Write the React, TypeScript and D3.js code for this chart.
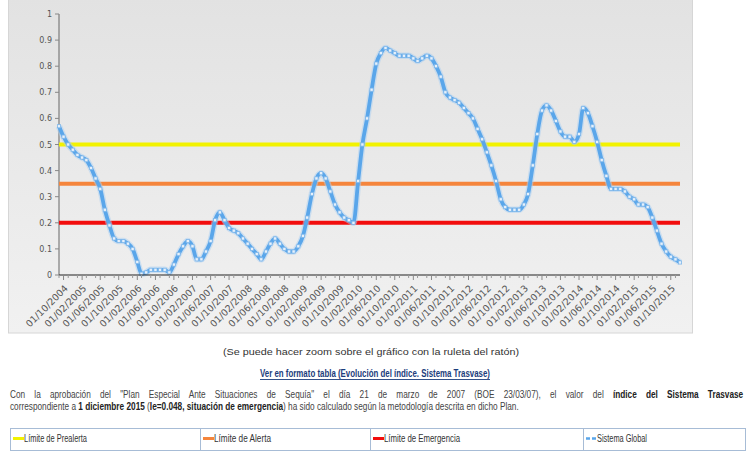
import React from "react";
import * as d3 from "d3";

const W = 749;
const H = 451;

// Monthly values of the index (Sistema Global), Sep 2004 .. Dec 2015
const globalValues = [
  0.57, 0.53, 0.5, 0.48, 0.46, 0.45, 0.44, 0.41, 0.37, 0.33,
  0.25, 0.19, 0.14, 0.13, 0.13, 0.12, 0.1, 0.05, 0.005, 0.01,
  0.02, 0.02, 0.02, 0.02, 0.01, 0.04, 0.08, 0.11, 0.13, 0.11,
  0.06, 0.06, 0.09, 0.13, 0.21, 0.24, 0.21, 0.18, 0.17, 0.16,
  0.14, 0.12, 0.1, 0.08, 0.06, 0.09, 0.12, 0.14, 0.12, 0.1,
  0.09, 0.09, 0.11, 0.15, 0.22, 0.31, 0.37, 0.39, 0.37, 0.32,
  0.27, 0.24, 0.22, 0.21, 0.2, 0.36, 0.5, 0.6, 0.71, 0.81,
  0.85, 0.87, 0.86, 0.85, 0.84, 0.84, 0.84, 0.83, 0.82, 0.83,
  0.84, 0.83, 0.8, 0.76, 0.7, 0.68, 0.67, 0.66, 0.64, 0.62,
  0.6, 0.56, 0.52, 0.47, 0.42, 0.36, 0.29, 0.26, 0.25, 0.25,
  0.25, 0.27, 0.31, 0.42, 0.54, 0.63, 0.65, 0.63, 0.59, 0.55,
  0.53, 0.53, 0.51, 0.54, 0.64, 0.62, 0.57, 0.51, 0.44, 0.38,
  0.33, 0.33, 0.33, 0.32, 0.3, 0.29, 0.27, 0.27, 0.26, 0.22,
  0.17, 0.12, 0.09, 0.07, 0.06, 0.048,
];
const startDate = new Date(2004, 8, 1);
const endDate = new Date(2015, 11, 1);
const firstTickDate = new Date(2004, 9, 1);
const tickCount = 34;
const yTicks = [0, 0.1, 0.2, 0.3, 0.4, 0.5, 0.6, 0.7, 0.8, 0.9, 1];

const thresholdNames = ["Límite de Prealerta", "Límite de Alerta", "Límite de Emergencia"];
const thresholdValues = [0.5, 0.35, 0.2];
const thresholdColors = ["#f2f200", "#f5853c", "#f20d0d"];
const seriesName = "Sistema Global";
const seriesColor = "#5aa6ea";

const noteText = "(Se puede hacer zoom sobre el gráfico con la ruleta del ratón)";
const linkText = "Ver en formato tabla (Evolución del índice. Sistema Trasvase)";
// paragraph segments per line: [text, bold]
const paragraphLine1: [string, boolean][] = [
  ["Con la aprobación del \"Plan Especial Ante Situaciones de Sequía\" el día 21 de marzo de 2007 (BOE 23/03/07), el valor del ", false],
  ["índice del Sistema Trasvase", true],
];
const paragraphLine2: [string, boolean][] = [
  ["correspondiente a ", false],
  ["1 diciembre 2015", true],
  [" (", false],
  ["Ie=0.048, situación de emergencia", true],
  [") ha sido calculado según la metodología descrita en dicho Plan.", false],
];

const PFONT = "'Liberation Sans', Arial, sans-serif";
const PSIZE = 10.5;

export default function App() {
  const x = d3.scaleTime().domain([startDate, endDate]).range([59, 680]);
  const y = d3.scaleLinear().domain([0, 1]).range([275, 14]);
  const dates = globalValues.map((_, i) => d3.timeMonth.offset(startDate, i));
  const pts = globalValues.map((v, i) => ({ d: dates[i], v }));
  const line = d3
    .line<{ d: Date; v: number }>()
    .x((p) => x(p.d))
    .y((p) => y(p.v))
    .curve(d3.curveMonotoneX);
  const tickDates = d3.range(tickCount).map((k) => d3.timeMonth.offset(firstTickDate, 4 * k));
  const fmt = d3.timeFormat("%d/%m/%Y");
  const minorDates = d3
    .range(tickCount * 2 + 2)
    .map((k) => d3.timeMonth.offset(startDate, 2 * k))
    .filter((d) => d <= endDate);

  // text measurement for the justified paragraph
  const ctx = typeof document !== "undefined" ? document.createElement("canvas").getContext("2d") : null;
  const measure = (s: string, b: boolean) => {
    if (!ctx) return s.length * PSIZE * 0.5;
    ctx.font = `${b ? "bold " : ""}${PSIZE}px ${PFONT}`;
    return ctx.measureText(s).width;
  };
  const nat = (segs: [string, boolean][]) => segs.reduce((a, [t, b]) => a + measure(t, b), 0);
  const sx = (519 - 10) / nat(paragraphLine2);
  const gaps1 = paragraphLine1.reduce((a, [t]) => a + (t.match(/ /g) || []).length, 0);
  const wordSpacing1 = ((744 - 10) / sx - nat(paragraphLine1)) / Math.max(1, gaps1);

  const font = "'DejaVu Sans', Verdana, sans-serif";
  const tfont = "'Liberation Sans', Arial, sans-serif";
  const legendCells = [10, 200, 370, 583, 746];
  const legendNames = [...thresholdNames, seriesName];
  const legendColors = [...thresholdColors, seriesColor];
  const legendWidths = [63, 57, 76, 50];

  return (
    <svg width={W} height={H} style={{ position: "absolute", left: 0, top: 0, background: "#fff" }}>
      <defs>
        <linearGradient id="bg" x1="0" y1="0" x2="0" y2="1">
          <stop offset="0" stopColor="#e2e2e2" />
          <stop offset="1" stopColor="#f1f1f1" />
        </linearGradient>
      </defs>
      <rect x={8.5} y={-2} width={684} height={335} fill="url(#bg)" stroke="#d6d6d6" />
      {/* y axis */}
      <line x1={59} x2={59} y1={y(1)} y2={y(0)} stroke="#666" strokeWidth={1} />
      {yTicks.map((t) => (
        <g key={t}>
          <line x1={55} x2={59} y1={y(t)} y2={y(t)} stroke="#888" />
          <text x={52} y={y(t) + 3} textAnchor="end" fontFamily={font} fontSize={8} fill="#555">
            {String(t)}
          </text>
        </g>
      ))}
      {/* thresholds */}
      {thresholdValues.map((v, i) => (
        <line key={i} x1={59} x2={680} y1={y(v)} y2={y(v)} stroke={thresholdColors[i]} strokeWidth={4} />
      ))}
      {/* series */}
      <path d={line(pts) || ""} fill="none" stroke="#a9d0f3" strokeWidth={6.5} opacity={0.5} />
      <path d={line(pts) || ""} fill="none" stroke={seriesColor} strokeWidth={3.8} />
      {pts.map((p, i) => (
        <rect key={i} x={x(p.d) - 1.6} y={y(p.v) - 1.6} width={3.2} height={3.2} fill="#e6f1fc" stroke="#7fb7ea" strokeWidth={0.8} />
      ))}
      {/* x axis */}
      <line x1={59} x2={680} y1={275} y2={275} stroke="#222" strokeWidth={1} />
      {minorDates.map((d, i) => (
        <line key={"m" + i} x1={x(d)} x2={x(d)} y1={275} y2={278} stroke="#999" />
      ))}
      {tickDates.map((d, i) => (
        <g key={i}>
          <line x1={x(d)} x2={x(d)} y1={275} y2={280} stroke="#888" />
          <text
            transform={`translate(${x(d) + 5},${289}) rotate(-45)`}
            textAnchor="end"
            fontFamily={font}
            fontSize={9.5}
            fill="#555"
          >
            {fmt(d)}
          </text>
        </g>
      ))}
      {/* texts below */}
      <text x={371} y={355} textAnchor="middle" fontFamily={tfont} fontSize={9.5} fill="#333" textLength={296} lengthAdjust="spacingAndGlyphs">
        {noteText}
      </text>
      <text x={375} y={377} textAnchor="middle" fontFamily={tfont} fontSize={11} fontWeight="bold" fill="#1c3d7c" textLength={230} lengthAdjust="spacingAndGlyphs">
        {linkText}
      </text>
      <line x1={260} x2={490} y1={379.5} y2={379.5} stroke="#1c3d7c" strokeWidth={0.9} />
      <g transform={`translate(10,398) scale(${sx},1)`}>
        <text x={0} y={0} fontFamily={PFONT} fontSize={PSIZE} fill="#444" style={{ wordSpacing: `${wordSpacing1}px`, whiteSpace: "pre" }}>
          {paragraphLine1.map(([t, b], i) => (
            <tspan key={i} fontWeight={b ? "bold" : "normal"} fill={b ? "#222" : "#444"}>
              {t}
            </tspan>
          ))}
        </text>
      </g>
      <g transform={`translate(10,410) scale(${sx},1)`}>
        <text x={0} y={0} fontFamily={PFONT} fontSize={PSIZE} fill="#444" style={{ whiteSpace: "pre" }}>
          {paragraphLine2.map(([t, b], i) => (
            <tspan key={i} fontWeight={b ? "bold" : "normal"} fill={b ? "#222" : "#444"}>
              {t}
            </tspan>
          ))}
        </text>
      </g>
      {/* legend table */}
      <rect x={10.5} y={428.5} width={735} height={22} fill="#fff" stroke="#a7bcd6" />
      {legendCells.slice(1, 4).map((cx, i) => (
        <line key={i} x1={cx + 0.5} x2={cx + 0.5} y1={428.5} y2={450.5} stroke="#a7bcd6" />
      ))}
      {legendNames.map((n, i) => {
        const cx = legendCells[i];
        const isSeries = i === 3;
        return (
          <g key={n}>
            {isSeries ? (
              <line x1={cx + 3} x2={cx + 14} y1={438.5} y2={438.5} stroke={legendColors[i]} strokeWidth={2.5} strokeDasharray="4 2" />
            ) : (
              <line x1={cx + 3} x2={cx + 14} y1={438.5} y2={438.5} stroke={legendColors[i]} strokeWidth={3} />
            )}
            <text x={cx + 14} y={442} fontFamily={tfont} fontSize={10} fill="#333" textLength={legendWidths[i]} lengthAdjust="spacingAndGlyphs">
              {n}
            </text>
          </g>
        );
      })}
    </svg>
  );
}
